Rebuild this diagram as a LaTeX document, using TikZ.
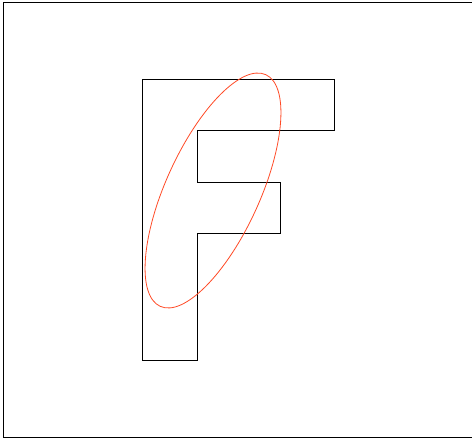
\documentclass[tikz,border=0pt]{standalone}
\definecolor{strokered}{HTML}{FF4A26}
\begin{document}
\begin{tikzpicture}[x=1pt, y=1pt]
	\pgfmathsetmacro{\stemL}{142}
	\pgfmathsetmacro{\stemR}{197}
	\pgfmathsetmacro{\topY}{-79}
	\pgfmathsetmacro{\botY}{-360}
	\useasboundingbox (0, 0) rectangle (472, -439);
	% frame
	\draw[black, line width=0.9pt] (472, -2) -- (3, -2) -- (3, -437) -- (472, -437);
	% letter F
	\draw[black, line width=0.8pt]
		(\stemL, \topY) -- (334, \topY) -- (334, -130) -- (\stemR, -130)
		-- (\stemR, -182) -- (280, -182) -- (280, -233) -- (\stemR, -233)
		-- (\stemR, \botY) -- (\stemL, \botY) -- cycle;
	% tilted ellipse
	\draw[strokered, line width=0.8pt, rotate around={65.5:(213, -190.5)}]
		(213, -190.5) ellipse [x radius=127.3, y radius=47];
\end{tikzpicture}
\end{document}
